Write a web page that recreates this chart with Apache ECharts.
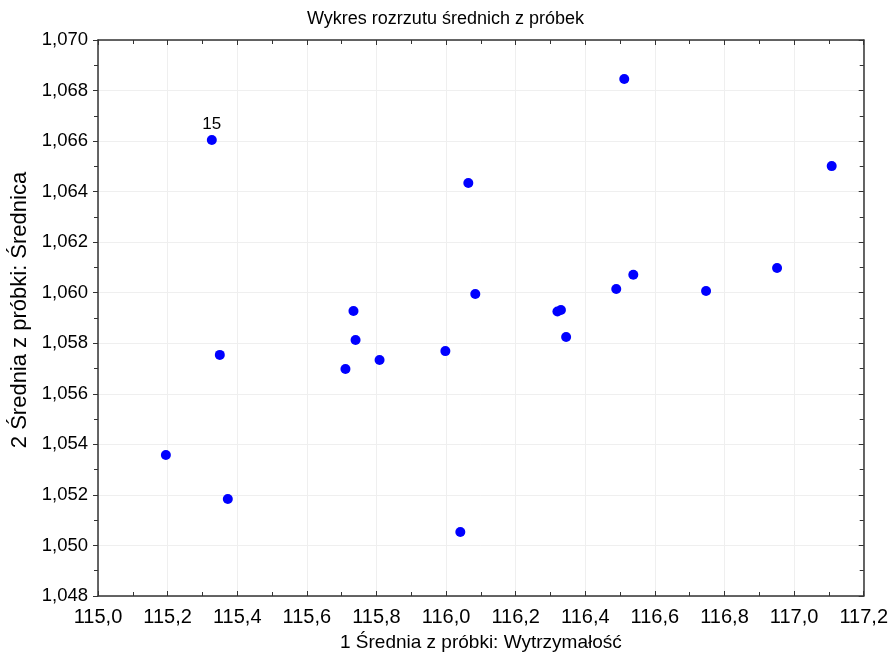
<!DOCTYPE html>
<html>
<head>
<meta charset="utf-8">
<script src="https://cdn.jsdelivr.net/npm/echarts@6/dist/echarts.min.js"></script>
<style>
html, body { margin: 0; padding: 0; background: #fff; }
#main { width: 891px; height: 660px; }
</style>
</head>
<body>
<div id="main"></div>
<script>
// średnie z próbek: wytrzymałość (x) i średnica (y)
var wytrzymalosc = [115.327, 116.512, 117.108, 116.064, 116.538, 116.951, 116.489, 116.747, 116.084, 115.734,
    116.320, 116.330, 116.345, 115.740, 115.350, 115.998, 115.809, 115.711, 115.195, 115.373, 116.041];
var srednica = [1.06604, 1.06846, 1.06501, 1.06434, 1.06071, 1.06098, 1.06015, 1.06007, 1.05995, 1.05928,
    1.05926, 1.05932, 1.05825, 1.05813, 1.05754, 1.05769, 1.05734, 1.05698, 1.05358, 1.05184, 1.05053];
var etykiety = ['15', '', '', '', '', '', '', '', '', '', '', '', '', '', '', '', '', '', '', '', ''];

var xMin = 115.0, xMax = 117.2, xStep = 0.2;
var yMin = 1.048, yMax = 1.070, yStep = 0.002;

var font = 'Liberation Sans';

var dane = [];
for (var i = 0; i < wytrzymalosc.length; i++) {
    var punkt = { value: [wytrzymalosc[i], srednica[i]] };
    if (etykiety[i]) {
        punkt.label = { show: true, formatter: etykiety[i], position: 'top', distance: 2,
            color: '#000', fontSize: 17, fontFamily: font };
    }
    dane.push(punkt);
}

function przecinek(v, d) { return v.toFixed(d).replace('.', ','); }

var chartDom = document.getElementById('main');
var myChart = echarts.init(chartDom, null, { renderer: 'canvas' });

var osX = {
    type: 'value', min: xMin, max: xMax, interval: xStep,
    axisLine: { show: true, onZero: false, lineStyle: { color: '#333', width: 1.5 } },
    axisTick: { show: true, inside: true, length: 5, lineStyle: { color: '#333' } },
    minorTick: { show: true, splitNumber: 2, length: 4, lineStyle: { color: '#333' } },
    splitLine: { show: true, lineStyle: { color: '#efefef' } }
};
var osY = {
    type: 'value', min: yMin, max: yMax, interval: yStep,
    axisLine: { show: true, onZero: false, lineStyle: { color: '#333', width: 1.5 } },
    axisTick: { show: true, inside: false, length: 5, lineStyle: { color: '#333' } },
    minorTick: { show: true, splitNumber: 2, length: 4, lineStyle: { color: '#333' } },
    splitLine: { show: true, lineStyle: { color: '#efefef' } }
};

var option = {
    backgroundColor: '#fff',
    animation: false,
    title: {
        text: 'Wykres rozrzutu średnich z próbek',
        left: 'center', top: 5,
        textStyle: { fontFamily: font, fontSize: 18, fontWeight: 'normal', color: '#000' }
    },
    grid: { left: 98, right: 26, top: 40, bottom: 64 },
    xAxis: [
        Object.assign({}, osX, {
            position: 'bottom',
            name: '1 Średnia z próbki: Wytrzymałość',
            nameLocation: 'middle', nameGap: 37,
            nameTextStyle: { fontFamily: font, fontSize: 19, color: '#000' },
            axisLabel: { fontFamily: font, fontSize: 20, color: '#000', margin: 11,
                formatter: function (v) { return przecinek(v, 1); } }
        }),
        Object.assign({}, osX, {
            position: 'top',
            axisLabel: { show: false },
            splitLine: { show: false }
        })
    ],
    yAxis: [
        Object.assign({}, osY, {
            position: 'left',
            name: '2 Średnia z próbki: Średnica',
            nameLocation: 'middle', nameGap: 67,
            nameTextStyle: { fontFamily: font, fontSize: 22, color: '#000', padding: [0, 0, 0, 16] },
            axisLabel: { fontFamily: font, fontSize: 18.5, color: '#000', margin: 10,
                formatter: function (v) { return przecinek(v, 3); } }
        }),
        Object.assign({}, osY, {
            position: 'right',
            axisTick: { show: true, inside: true, length: 5, lineStyle: { color: '#333' } },
            axisLabel: { show: false },
            splitLine: { show: false }
        })
    ],
    series: [{
        type: 'scatter',
        xAxisIndex: 0, yAxisIndex: 0,
        symbol: 'circle', symbolSize: 10,
        itemStyle: { color: '#0000ff', opacity: 1 },
        data: dane
    }]
};

option && myChart.setOption(option);
</script>
</body>
</html>
